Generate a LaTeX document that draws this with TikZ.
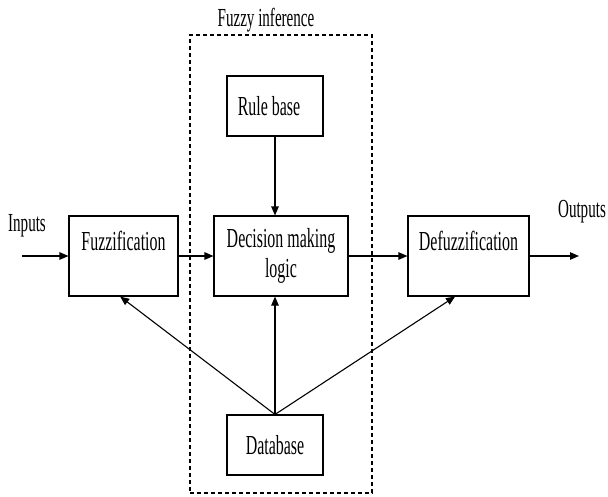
\documentclass[tikz,border=0pt]{standalone}
\usepackage{fontspec}
\setmainfont{Liberation Serif}[FakeStretch=0.58]
\usepackage{tikz}
\usetikzlibrary{positioning,arrows.meta,calc}

\begin{document}
\begin{tikzpicture}[
    x=1pt, y=-1pt,
    block/.style={rectangle, draw, line width=1.1pt, align=center,
        font=\fontsize{27.5}{30}\selectfont, inner sep=0pt},
    flow/.style={-{Triangle[length=9pt,width=7.5pt]}, line width=1.1pt},
    zone/.style={rectangle, draw, line width=1.1pt, dash pattern=on 4pt off 3pt},
    caption/.style={font=\fontsize{26}{30}\selectfont}
]
\useasboundingbox (0,0) rectangle (608,496);

% fuzzy inference region
\node[zone, minimum width=182pt, minimum height=458pt] (inf) at (281,264) {};
\node[caption] (inflabel) at (266,20) {Fuzzy inference};

% main chain
\node[block, minimum width=109pt, minimum height=80pt] (fuzz) at (123.5,256) {Fuzzification\\~};
\node[block, minimum width=134pt, minimum height=80pt] (dml) at (281,256) {Decision making\\logic};
\node[block, minimum width=121pt, minimum height=80pt] (defuzz) at (468.5,256) {Defuzzification\\~};
\node[block, minimum width=96pt, minimum height=60pt] (rules) at (275,106) {Rule base\hspace*{12pt}};
\node[block, minimum width=96pt, minimum height=60pt] (db) at (275,445) {Database};

\node[caption] (inlabel) at (27,226) {Inputs};
\node[caption] (outlabel) at (582,212) {Outputs};
\coordinate (in) at (22,256);
\coordinate (out) at (579,256);

\draw[flow] (in) -- (fuzz.west);
\draw[flow] (fuzz.east) -- (dml.west);
\draw[flow] (dml.east) -- (defuzz.west);
\draw[flow] (defuzz.east) -- (out);
\draw[flow] (rules.south) -- (rules.south |- dml.north);
\draw[flow] (db.north) -- (db.north |- dml.south);
\draw[flow] (db.north) -- ($(fuzz.south west)!0.47!(fuzz.south east)$);
\draw[flow] (db.north) -- ($(defuzz.south west)!0.39!(defuzz.south east)$);
\end{tikzpicture}
\end{document}
